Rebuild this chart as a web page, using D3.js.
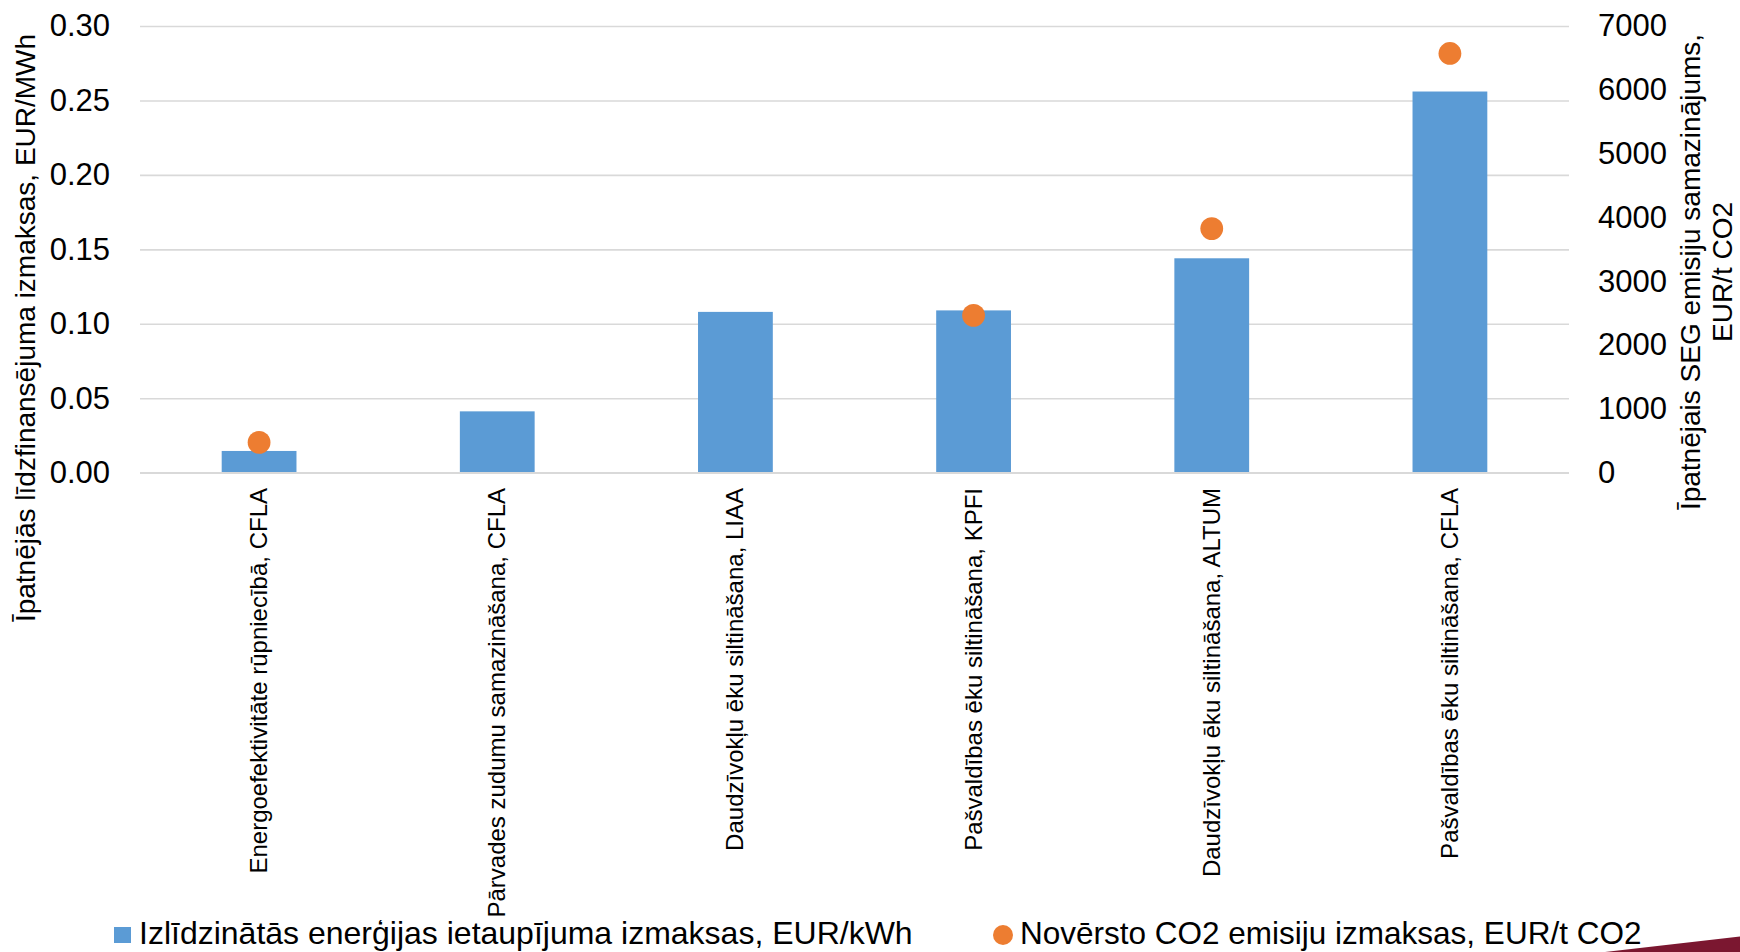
<!DOCTYPE html>
<html>
<head>
<meta charset="utf-8">
<script src="https://cdn.jsdelivr.net/npm/d3@7"></script>
<style>
  html, body { margin: 0; padding: 0; background: #ffffff; }
  svg { display: block; font-family: "Liberation Sans", Arial, sans-serif; }
</style>
</head>
<body>
<svg id="chart" width="1740" height="952"></svg>
<script>
// Programmes (categories on the x axis)
const categories = [
  "Energoefektivitāte rūpniecībā, CFLA",
  "Pārvades zudumu samazināšana, CFLA",
  "Daudzīvokļu ēku siltināšana, LIAA",
  "Pašvaldības ēku siltināšana, KPFI",
  "Daudzīvokļu ēku siltināšana, ALTUM",
  "Pašvaldības ēku siltināšana, CFLA"
];

// Levelised energy-saving cost (left axis), EUR/kWh
const savingCost = [0.0146, 0.0412, 0.108, 0.109, 0.144, 0.256];

// Cost of avoided CO2 emissions (right axis), EUR/t CO2; no value for two programmes
const co2Cost = [475, null, null, 2465, 3825, 6570];

// Tick values
const leftTicks = [0, 0.05, 0.10, 0.15, 0.20, 0.25, 0.30];
const rightTicks = [0, 1000, 2000, 3000, 4000, 5000, 6000, 7000];

// Text
const leftTitle = "Īpatnējās līdzfinansējuma izmaksas, EUR/MWh";
const rightTitleLines = ["Īpatnējais SEG emisiju samazinājums,", "EUR/t CO2"];
const legendLabels = [
  "Izlīdzinātās enerģijas ietaupījuma izmaksas, EUR/kWh",
  "Novērsto CO2 emisiju izmaksas, EUR/t CO2"
];

const BLUE = "#5B9BD5";
const ORANGE = "#ED7D31";
const GRID = "#D9D9D9";

const svg = d3.select("#chart");
svg.append("rect").attr("width", 1740).attr("height", 952).attr("fill", "#fff");

const plot = { left: 140, right: 1569, top: 26, bottom: 472.7 };

const x = d3.scaleBand()
  .domain(categories)
  .range([plot.left, plot.right])
  .paddingInner(0.686)
  .paddingOuter(0.343);

const yLeft = d3.scaleLinear().domain([0, 0.30]).range([plot.bottom, plot.top]);
const yRight = d3.scaleLinear().domain([0, 7000]).range([plot.bottom, plot.top]);

// Horizontal gridlines with left tick labels
const leftAxis = d3.axisLeft(yLeft)
  .tickValues(leftTicks)
  .tickFormat(d3.format(".2f"))
  .tickSize(-(plot.right - plot.left))
  .tickPadding(30);

const gLeft = svg.append("g")
  .attr("transform", `translate(${plot.left},0)`)
  .call(leftAxis);
gLeft.select(".domain").remove();
gLeft.selectAll(".tick line").attr("stroke", GRID).attr("stroke-width", 1.6);
gLeft.selectAll(".tick text")
  .attr("fill", "#000")
  .attr("font-size", 31)
  .attr("font-family", "'Liberation Sans', Arial, sans-serif");

// Right axis labels
const rightAxis = d3.axisRight(yRight)
  .tickValues(rightTicks)
  .tickFormat(d3.format("d"))
  .tickSize(0)
  .tickPadding(29);

const gRight = svg.append("g")
  .attr("transform", `translate(${plot.right},0)`)
  .call(rightAxis);
gRight.select(".domain").remove();
gRight.selectAll(".tick text")
  .attr("fill", "#000")
  .attr("font-size", 31)
  .attr("font-family", "'Liberation Sans', Arial, sans-serif");

// Bars
svg.append("g")
  .selectAll("rect")
  .data(categories.map((c, i) => ({ c, v: savingCost[i] })))
  .join("rect")
  .attr("x", d => x(d.c))
  .attr("width", x.bandwidth())
  .attr("y", d => yLeft(d.v))
  .attr("height", d => yLeft(0) - yLeft(d.v))
  .attr("fill", BLUE);

// Baseline redrawn over bar bottoms
svg.append("line")
  .attr("x1", plot.left).attr("x2", plot.right)
  .attr("y1", yLeft(0)).attr("y2", yLeft(0))
  .attr("stroke", GRID).attr("stroke-width", 1.6);

// CO2 cost markers
svg.append("g")
  .selectAll("circle")
  .data(categories.map((c, i) => ({ c, v: co2Cost[i] })).filter(d => d.v != null))
  .join("circle")
  .attr("cx", d => x(d.c) + x.bandwidth() / 2)
  .attr("cy", d => yRight(d.v))
  .attr("r", 11.4)
  .attr("fill", ORANGE);

// Category labels, rotated
svg.append("g")
  .selectAll("text")
  .data(categories)
  .join("text")
  .attr("transform", d => `translate(${x(d) + x.bandwidth() / 2 + 8},488) rotate(-90)`)
  .attr("text-anchor", "end")
  .attr("font-size", 24)
  .attr("fill", "#000")
  .text(d => d);

// Left axis title
svg.append("text")
  .attr("transform", "translate(35,328) rotate(-90)")
  .attr("text-anchor", "middle")
  .attr("font-size", 28)
  .attr("fill", "#000")
  .text(leftTitle);

// Right axis title (two lines)
svg.append("g")
  .selectAll("text")
  .data(rightTitleLines)
  .join("text")
  .attr("transform", (d, i) => `translate(${1700 + i * 32},272) rotate(-90)`)
  .attr("text-anchor", "middle")
  .attr("font-size", 28)
  .attr("fill", "#000")
  .text(d => d);

// Legend
const legend = svg.append("g");
legend.append("rect")
  .attr("x", 114).attr("y", 927).attr("width", 17).attr("height", 16)
  .attr("fill", BLUE);
legend.append("text")
  .attr("x", 139).attr("y", 944)
  .attr("font-size", 32).attr("fill", "#000")
  .text(legendLabels[0]);
legend.append("circle")
  .attr("cx", 1003).attr("cy", 935).attr("r", 10)
  .attr("fill", ORANGE);
legend.append("text")
  .attr("x", 1020).attr("y", 944)
  .attr("font-size", 31.5).attr("fill", "#000")
  .text(legendLabels[1]);

// Corner accent
svg.append("path")
  .attr("d", "M1605,952 L1740,936.5 L1740,952 Z")
  .attr("fill", "#7B1730");
</script>
</body>
</html>
